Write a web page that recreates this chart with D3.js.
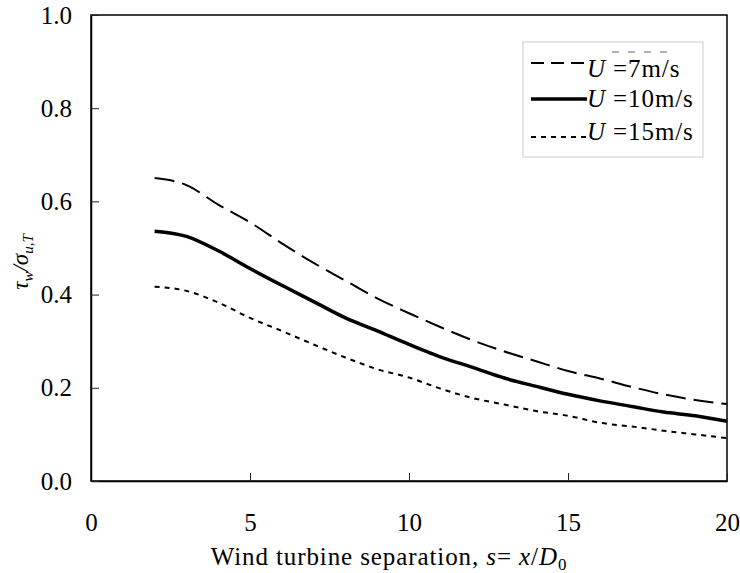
<!DOCTYPE html>
<html>
<head>
<meta charset="utf-8">
<script src="https://cdn.jsdelivr.net/npm/d3@7"></script>
<style>
  body { margin: 0; background: #fff; }
  svg { display: block; }
  text { font-family: "Liberation Serif", "Times New Roman", Times, "DejaVu Serif", serif; fill: #000; }
</style>
</head>
<body>
<svg id="chart" width="740" height="573"></svg>
<script>
// wind turbine separation s = x/D0
var separation = [2, 3, 4, 5, 6, 7, 8, 9, 10, 11, 12, 13, 14, 15, 16, 17, 18, 19, 20];
// tau_w / sigma_u,T for each wind speed
var u7 = [0.650, 0.635, 0.593, 0.555, 0.510, 0.468, 0.430, 0.392, 0.360, 0.330, 0.302, 0.278, 0.257, 0.236, 0.220, 0.202, 0.186, 0.174, 0.165];
var u10 = [0.536, 0.525, 0.494, 0.456, 0.420, 0.385, 0.350, 0.322, 0.293, 0.266, 0.244, 0.221, 0.203, 0.186, 0.172, 0.160, 0.148, 0.140, 0.128];
var u15 = [0.417, 0.408, 0.383, 0.350, 0.322, 0.293, 0.265, 0.240, 0.222, 0.198, 0.178, 0.164, 0.150, 0.140, 0.125, 0.117, 0.108, 0.100, 0.092];
var seriesLabels = ["7m/s", "10m/s", "15m/s"];
var xTicks = [0, 5, 10, 15, 20];
var yTicks = [0, 0.2, 0.4, 0.6, 0.8, 1.0];

var svg = d3.select("#chart");
var plotLeft = 91, plotRight = 727, plotTop = 15, plotBottom = 481;

var x = d3.scaleLinear().domain([0, 20]).range([plotLeft, plotRight]);
var y = d3.scaleLinear().domain([0, 1]).range([plotBottom, plotTop]);

// frame
svg.append("rect")
  .attr("x", plotLeft).attr("y", plotTop)
  .attr("width", plotRight - plotLeft).attr("height", plotBottom - plotTop)
  .attr("fill", "none").attr("stroke", "#000").attr("stroke-width", 1.5);

var xAxis = svg.append("g")
  .attr("transform", "translate(0," + plotBottom + ")")
  .call(d3.axisBottom(x).tickValues(xTicks).tickSizeInner(-8).tickSizeOuter(0).tickPadding(32).tickFormat(d3.format("d")));
var yAxis = svg.append("g")
  .attr("transform", "translate(" + plotLeft + ",0)")
  .call(d3.axisLeft(y).tickValues(yTicks).tickSizeInner(-8).tickSizeOuter(0).tickPadding(19).tickFormat(d3.format(".1f")));

[xAxis, yAxis].forEach(function (g) {
  g.attr("font-family", null).attr("font-size", null);
  g.select(".domain").attr("stroke", "#000").attr("stroke-width", 1.5);
  g.selectAll(".tick line").attr("stroke", "#222").attr("stroke-width", 1);
  g.selectAll(".tick text").attr("font-size", 25).attr("fill", "#000");
});

var line = d3.line()
  .x(function (d) { return x(d[0]); })
  .y(function (d) { return y(d[1]); })
  .curve(d3.curveMonotoneX);

var styles = [
  { width: 2, dash: "20,8", legendDash: "13,7" },
  { width: 3.5, dash: null, legendDash: null },
  { width: 2, dash: "5,5", legendDash: "5,5" }
];

[u7, u10, u15].forEach(function (vals, i) {
  var pts = separation.map(function (s, j) { return [s, vals[j]]; });
  svg.append("path")
    .datum(pts)
    .attr("d", line)
    .attr("fill", "none")
    .attr("stroke", "#000")
    .attr("stroke-width", styles[i].width)
    .attr("stroke-dasharray", styles[i].dash);
});

// legend
var lg = svg.append("g");
lg.append("rect")
  .attr("x", 523).attr("y", 42).attr("width", 180).attr("height", 115)
  .attr("fill", "#fff").attr("stroke", "#ccc").attr("stroke-width", 1);
lg.append("line")
  .attr("x1", 612).attr("x2", 668).attr("y1", 52).attr("y2", 52)
  .attr("stroke", "#666").attr("stroke-width", 1).attr("stroke-dasharray", "7,9");
var lineY = [63, 99, 137];
var textY = [77, 107, 140];
seriesLabels.forEach(function (lab, i) {
  lg.append("line")
    .attr("x1", 531).attr("x2", 587).attr("y1", lineY[i]).attr("y2", lineY[i])
    .attr("stroke", "#000")
    .attr("stroke-width", styles[i].width)
    .attr("stroke-dasharray", styles[i].legendDash);
  var t = lg.append("text").attr("x", 587).attr("y", textY[i])
    .attr("font-size", 25).attr("letter-spacing", 0.9);
  t.append("tspan").attr("font-style", "italic").text("U");
  t.append("tspan").text(" =" + lab);
});

// x axis title
var xt = svg.append("text")
  .attr("x", 389).attr("y", 565)
  .attr("text-anchor", "middle").attr("font-size", 25).attr("letter-spacing", 0.9);
xt.append("tspan").text("Wind turbine separation, ");
xt.append("tspan").attr("font-style", "italic").text("s");
xt.append("tspan").text("= ");
xt.append("tspan").attr("font-style", "italic").text("x");
xt.append("tspan").text("/");
xt.append("tspan").attr("font-style", "italic").text("D");
xt.append("tspan").attr("font-size", 17).attr("dy", 5).text("0");

// y axis title
var yt = svg.append("text")
  .attr("transform", "translate(28,262) rotate(-90)")
  .attr("text-anchor", "middle").attr("font-size", 23).attr("font-style", "italic");
yt.append("tspan").text("τ");
yt.append("tspan").attr("font-size", 15).attr("dy", 5).text("w");
yt.append("tspan").attr("dy", -5).text("/σ");
yt.append("tspan").attr("font-size", 15).attr("dy", 5).text("u,T");
</script>
</body>
</html>
